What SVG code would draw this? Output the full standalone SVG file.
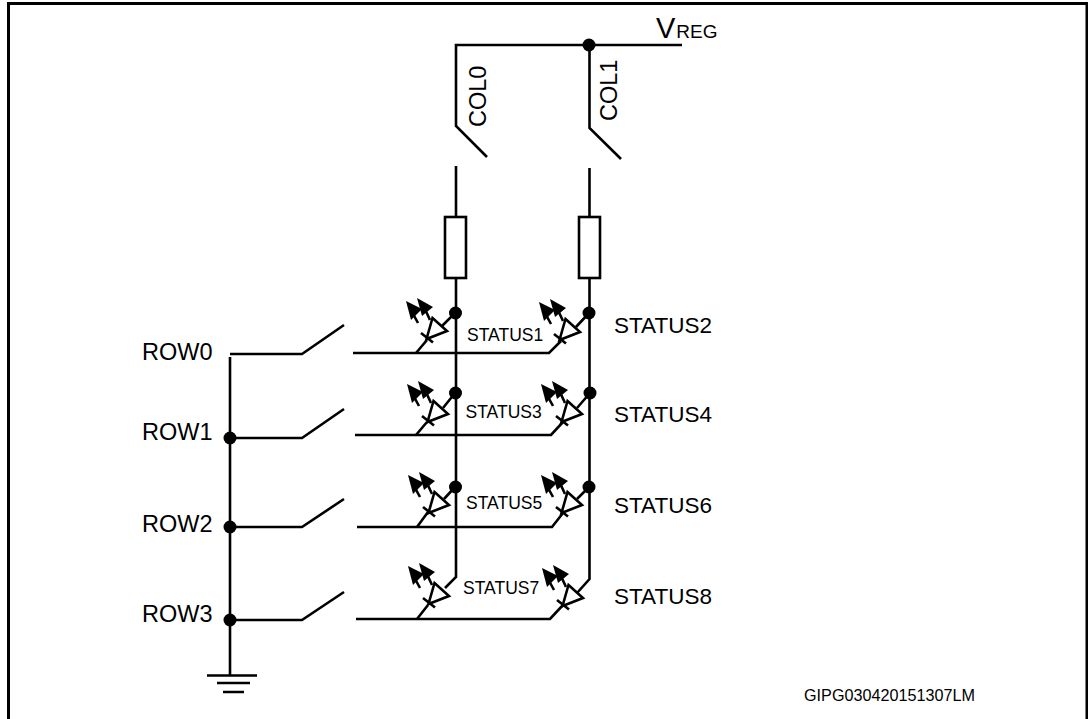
<svg xmlns="http://www.w3.org/2000/svg" width="1088" height="719" viewBox="0 0 1088 719">
<style>
.w{fill:none;stroke:#000;stroke-width:2.6;stroke-linecap:butt;stroke-linejoin:miter}
.t{font-family:"Liberation Sans",Arial,sans-serif;fill:#000}
.l{font-size:22.500px}
.r{font-size:23.500px}
.s{font-size:17.500px}
.d{fill:#000}
</style>
<defs>
<g id="led">
<path class="w" d="M-14.500,-13L0,0L-20.500,8Z"/>
<path class="w" d="M-26,2L-14,11.500"/>
<path class="w" d="M-29,-8L-35,-19M-17,-11L-23,-24"/>
<path class="d" d="M-41,-30L-25,-22L-36,-11Z"/>
<path class="d" d="M-30,-33L-14,-24L-25,-15Z"/>
</g>
</defs>
<rect width="1088" height="719" fill="#fff"/>
<path d="M8.500,719V3.500H1087V719" fill="none" stroke="#000" stroke-width="3"/>
<g id="connectors">
<path class="w" d="M682,45H456V126L487,157"/>
<path class="w" d="M589.500,45V128L621,159"/>
<path class="w" d="M456,166V217M456,278V577L445,588"/>
<path class="w" d="M589.500,168V217M589.500,278V579L577,593"/>
<path class="w" d="M230,354H302L344,325M353,353H549L561,341"/>
<path class="w" d="M230,357V675"/>
<path class="w" d="M230,438H302L344,409M355,435H551L563,422"/>
<path class="w" d="M230,527H302L344,499M357,527H552L563,513"/>
<path class="w" d="M230,620H302L344,592M356,619H550L563,605"/>
<path class="w" d="M416,353L427,340M416,435L427,422M417,527L428,512M417,619L428,605"/>
<path class="w" d="M442,326L455,313M443,408L455,393M444,499L455,487M576,327L589,313M577,408L590,393M577,499L589,487"/>
<path class="w" d="M207,675.500H257M217,683H250M223,692H244"/>
</g>
<g id="resistor-col0"><rect class="w" x="445" y="217" width="21" height="61"/></g>
<g id="resistor-col1"><rect class="w" x="579" y="217" width="21" height="61"/></g>
<g id="junctions">
<circle class="d" cx="589" cy="45" r="6.500"/>
<circle class="d" cx="455.500" cy="313" r="6.500"/><circle class="d" cx="589" cy="313" r="6.500"/>
<circle class="d" cx="455.500" cy="393" r="6.500"/><circle class="d" cx="590" cy="393" r="6.500"/>
<circle class="d" cx="455.500" cy="487" r="6.500"/><circle class="d" cx="589" cy="487" r="6.500"/>
<circle class="d" cx="230" cy="438" r="6.500"/><circle class="d" cx="230" cy="527" r="6.500"/><circle class="d" cx="230" cy="620" r="6.500"/>
</g>
<g id="led1"><use href="#led" x="447" y="331"/></g>
<g id="led2"><use href="#led" x="580" y="332"/></g>
<g id="led3"><use href="#led" x="448" y="414"/></g>
<g id="led4"><use href="#led" x="582" y="414"/></g>
<g id="led5"><use href="#led" x="449" y="505"/></g>
<g id="led6"><use href="#led" x="582" y="505"/></g>
<g id="led7"><use href="#led" x="449" y="596"/></g>
<g id="led8"><use href="#led" x="583" y="598"/></g>
<g id="labels">
<text class="t" x="656" y="38" font-size="29">V<tspan font-size="19" dx="1">REG</tspan></text>
<text class="t r" transform="translate(486,127) rotate(-90)">COL0</text>
<text class="t r" transform="translate(616.500,121) rotate(-90)">COL1</text>
<text class="t r" x="142" y="360">ROW0</text>
<text class="t r" x="142" y="440">ROW1</text>
<text class="t r" x="142" y="532">ROW2</text>
<text class="t r" x="142" y="622">ROW3</text>
<text class="t l" x="614" y="333">STATUS2</text>
<text class="t l" x="614" y="422">STATUS4</text>
<text class="t l" x="614" y="513">STATUS6</text>
<text class="t l" x="614" y="604">STATUS8</text>
<text class="t s" x="467" y="340.500">STATUS1</text>
<text class="t s" x="465.500" y="418">STATUS3</text>
<text class="t s" x="466" y="509">STATUS5</text>
<text class="t s" x="463" y="594">STATUS7</text>
<text class="t" x="804" y="701" font-size="16.200">GIPG030420151307LM</text>
</g>
</svg>
